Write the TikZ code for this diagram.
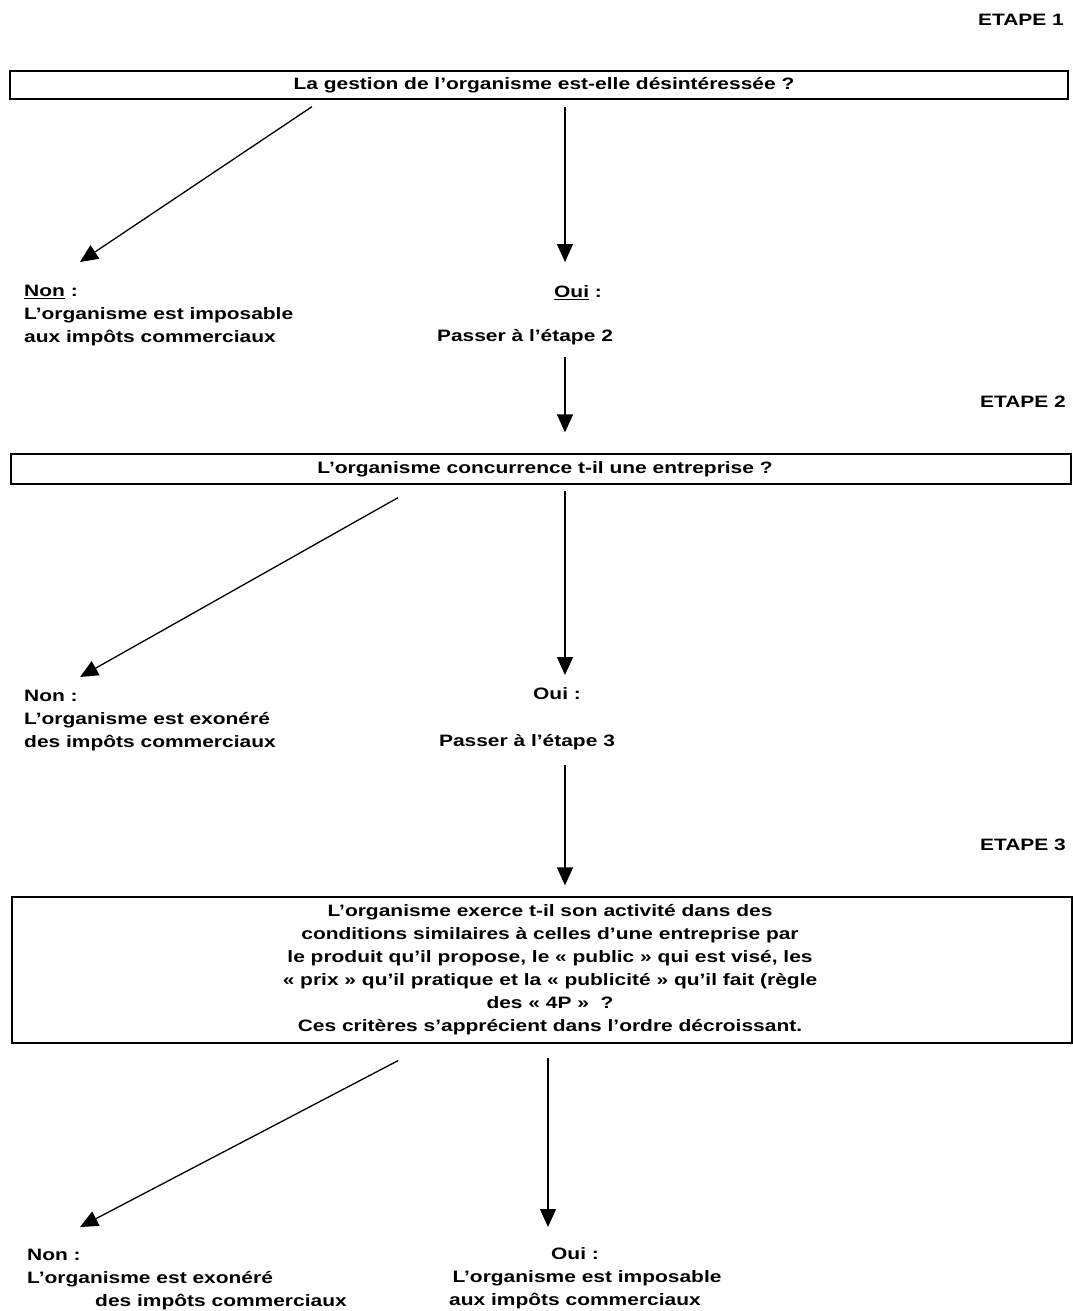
\documentclass[tikz,border=0pt]{standalone}
\usepackage{fontspec}
\setmainfont{Liberation Sans}[FakeStretch=1.27]
\usetikzlibrary{arrows.meta,positioning}

\begin{document}
\begin{tikzpicture}[x=1pt, y=-1pt,
    font=\fontsize{16.5}{23}\selectfont\bfseries,
    question/.style={rectangle, draw, line width=1.3pt, inner sep=0pt, align=center},
    answer/.style={inner sep=0pt, align=left, anchor=north west},
    choice/.style={inner sep=0pt, align=center, anchor=north},
    arr/.style={-{Triangle[length=18pt,width=16pt]}, line width=1.3pt}]
    \useasboundingbox (0,0) rectangle (1072,1311);

    % etape 1
    \node (etape1) [anchor=east, inner sep=0pt] at (1064,20) {ETAPE 1};
    \node (q1) [question, minimum width=1058pt, minimum height=28pt] at (539,85) {\hspace{10pt}La gestion de l'organisme est-elle désintéressée ?};
    \node (non1) [answer] at (24,285) {\underline{Non} :\\L'organisme est imposable\\aux impôts commerciaux};
    \node (oui1) [choice] at (578,285) {\underline{Oui} :};
    \node (pass1) [choice] at (525,329) {Passer à l'étape 2};

    \draw [arr] ([xshift=-227pt,yshift=-7pt]q1.south) -- ([xshift=56pt,yshift=23pt]non1.north west);
    \draw [arr] ([xshift=26pt,yshift=-7pt]q1.south) -- ([xshift=-13pt,yshift=23pt]oui1.north);

    % etape 2
    \node (etape2) [anchor=east, inner sep=0pt] at (1066,402) {ETAPE 2};
    \node (q2) [question, minimum width=1060pt, minimum height=30pt] at (541,469) {\hspace{8pt}L'organisme concurrence t-il une entreprise ?};
    \node (non2) [answer] at (24,690) {Non :\\L'organisme est exonéré\\des impôts commerciaux};
    \node (oui2) [choice] at (557,687) {Oui :};
    \node (pass2) [choice] at (527,734) {Passer à l'étape 3};

    \draw [arr] ([xshift=40pt,yshift=-12pt]pass1.south) -- ([xshift=24pt,yshift=21pt]q2.north);
    \draw [arr] ([xshift=-143pt,yshift=-13pt]q2.south) -- ([xshift=56pt,yshift=13pt]non2.north west);
    \draw [arr] ([xshift=24pt,yshift=-6pt]q2.south) -- ([xshift=8pt,yshift=12pt]oui2.north);

    % etape 3
    \node (etape3) [anchor=east, inner sep=0pt] at (1066,845) {ETAPE 3};
    \node (q3) [question, minimum width=1060pt, minimum height=146pt] at (542,970) {\hspace{16pt}L'organisme exerce t-il son activité dans des\\\hspace{16pt}conditions similaires à celles d'une entreprise par\\\hspace{16pt}le produit qu'il propose, le «~public~» qui est visé, les\\\hspace{16pt}«~prix~» qu'il pratique et la «~publicité~» qu'il fait (règle\\\hspace{16pt}des «~4P~»~~?\\\hspace{16pt}Ces critères s'apprécient dans l'ordre décroissant.};
    \node (non3) [answer] at (27,1249) {Non :\\L'organisme est exonéré\\\hspace*{68pt}des impôts commerciaux};
    \node (oui3) [choice] at (575,1247) {Oui :\hspace{24pt}\\\hspace{24pt}L'organisme est imposable\\aux impôts commerciaux};

    \draw [arr] ([xshift=38pt,yshift=-15pt]pass2.south) -- ([xshift=23pt,yshift=11pt]q3.north);
    \draw [arr] ([xshift=-144pt,yshift=-17pt]q3.south) -- ([xshift=53pt,yshift=22pt]non3.north west);
    \draw [arr] ([xshift=6pt,yshift=-14pt]q3.south) -- ([xshift=-27pt,yshift=20pt]oui3.north);
\end{tikzpicture}
\end{document}
